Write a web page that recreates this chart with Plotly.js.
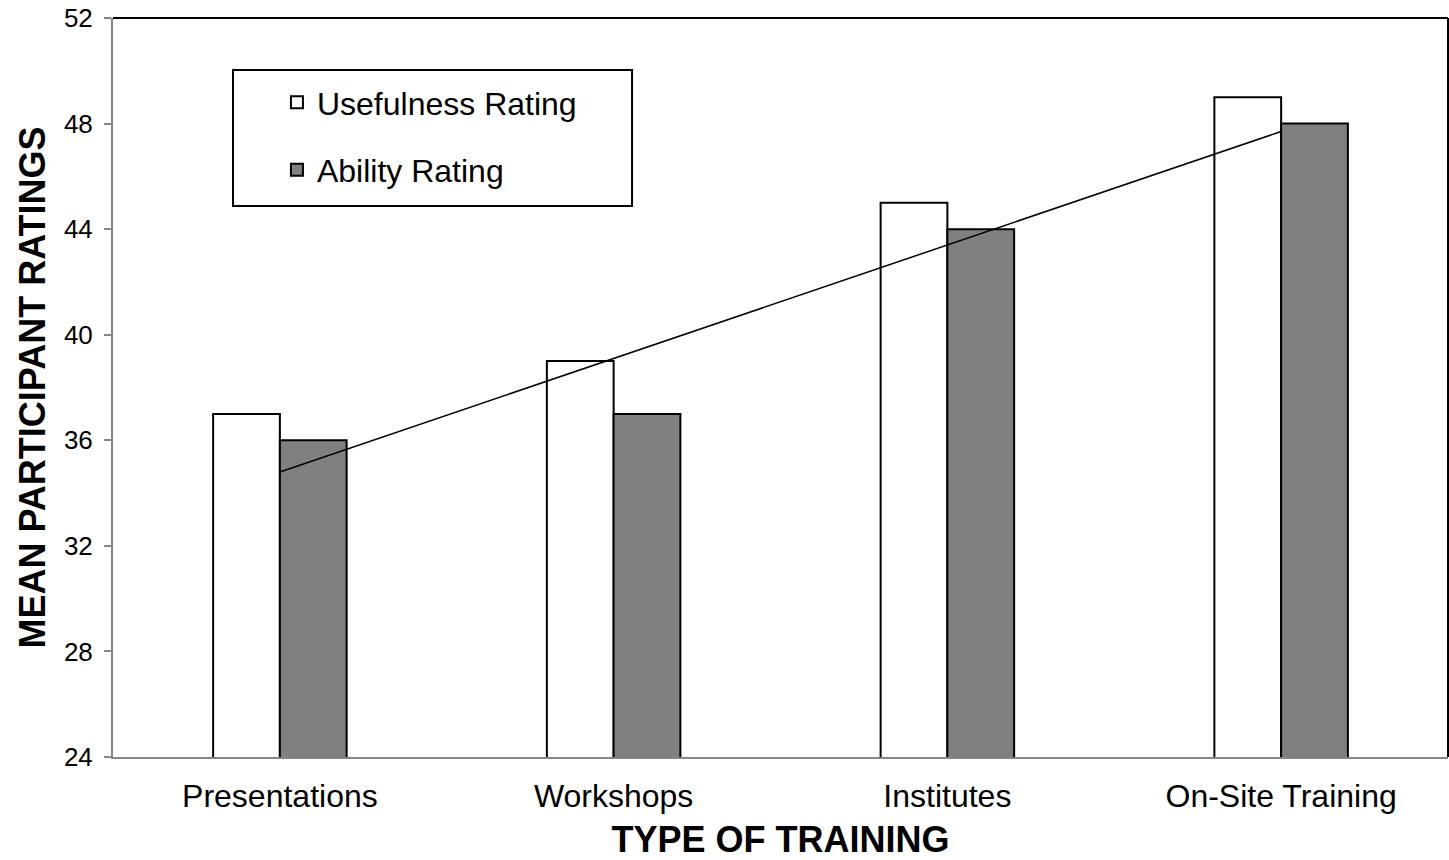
<!DOCTYPE html>
<html>
<head>
<meta charset="utf-8">
<script src="https://cdn.plot.ly/plotly-3.0.1.min.js"></script>
<style>html,body{margin:0;padding:0;background:#fff;}#chart{width:1449px;height:860px;}</style>
</head>
<body>
<div id="chart"></div>
<script>
const categories = ["Presentations", "Workshops", "Institutes", "On-Site Training"];
const usefulness = [37, 39, 45, 49];
const ability = [36, 37, 44, 48];
const seriesNames = ["Usefulness Rating", "Ability Rating"];

// linear trendline fitted to the Ability series
function linearFit(vals) {
  const n = vals.length;
  const xs = vals.map((_, i) => i + 1);
  const mx = xs.reduce((a, b) => a + b, 0) / n;
  const my = vals.reduce((a, b) => a + b, 0) / n;
  let num = 0, den = 0;
  for (let i = 0; i < n; i++) { num += (xs[i] - mx) * (vals[i] - my); den += (xs[i] - mx) ** 2; }
  const slope = num / den, icpt = my - slope * mx;
  return xs.map(x => icpt + slope * x);
}
const trend = linearFit(ability);

const FONT = '"Liberation Sans", Arial, sans-serif';

const traces = [
  { type: 'bar', x: categories, y: usefulness, name: seriesNames[0], legendgroup: 'a',
    marker: { color: '#ffffff', line: { color: '#000000', width: 2 } } },
  { type: 'bar', x: categories, y: ability, name: seriesNames[1], legendgroup: 'b',
    marker: { color: '#808080', line: { color: '#000000', width: 2 } } },
  { type: 'scatter', mode: 'lines', x: categories, y: trend, showlegend: false,
    line: { color: '#000000', width: 1.5 }, hoverinfo: 'skip' }
];

const layout = {
  width: 1449, height: 860,
  margin: { l: 113, r: 1, t: 18, b: 103 },
  paper_bgcolor: '#ffffff', plot_bgcolor: '#ffffff',
  font: { family: FONT, color: '#000000' },
  barmode: 'group', bargap: 0.6, bargroupgap: 0,
  showlegend: true,
  legend: {
    x: 0.1228, y: 0.923, xanchor: 'left', yanchor: 'top',
    bgcolor: 'rgba(0,0,0,0)', borderwidth: 0,
    font: { size: 32, family: FONT, color: '#000' },
    traceorder: 'grouped', tracegroupgap: 23
  },
  xaxis: {
    type: 'category', showgrid: false, zeroline: false,
    showline: true, linecolor: '#868686', linewidth: 2,
    ticks: '', tickfont: { size: 32, family: FONT, color: '#000' },
    ticklabelstandoff: 10,
    title: { text: '<b>TYPE OF TRAINING</b>', font: { size: 36, family: FONT, color: '#000' }, standoff: 15 }
  },
  yaxis: {
    range: [24, 52], dtick: 4, tick0: 24, showgrid: false, zeroline: false,
    showline: true, linecolor: '#868686', linewidth: 2,
    ticks: 'outside', ticklen: 7, tickwidth: 2, tickcolor: '#868686',
    tickfont: { size: 26, family: FONT, color: '#000' },
    ticklabelstandoff: 6,
    title: { text: '<b>MEAN PARTICIPANT RATINGS</b>', font: { size: 36, family: FONT, color: '#000' }, standoff: 7 }
  },
  shapes: [
    { type: 'line', xref: 'paper', yref: 'paper', x0: 0, x1: 1, y0: 1, y1: 1, line: { color: '#000', width: 2 } },
    { type: 'line', xref: 'paper', yref: 'paper', x0: 1, x1: 1, y0: 0, y1: 1, line: { color: '#000', width: 2 } },
    { type: 'rect', xref: 'paper', yref: 'paper', x0: 0.0899, x1: 0.3888, y0: 0.7456, y1: 0.9296,
      line: { color: '#000', width: 2 }, fillcolor: 'rgba(0,0,0,0)' }
  ]
};

Plotly.newPlot('chart', traces, layout, { displayModeBar: false, staticPlot: true });
</script>
</body>
</html>
